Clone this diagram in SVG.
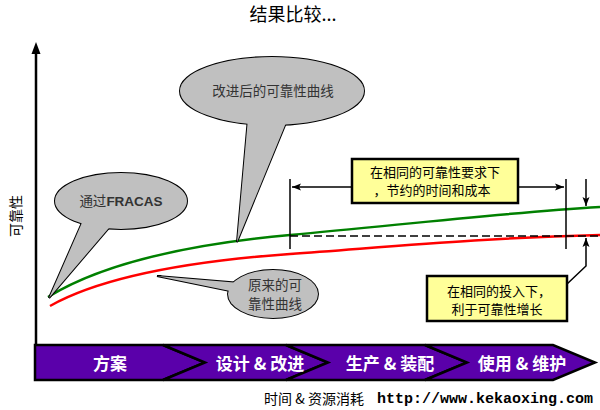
<svg xmlns="http://www.w3.org/2000/svg" width="600" height="410" viewBox="0 0 600 410">
<defs>
<marker id="ah" markerWidth="10" markerHeight="8" refX="9" refY="4" orient="auto" markerUnits="userSpaceOnUse">
<path d="M0,0.5 L9,4 L0,7.5 L2,4 Z" fill="#000"/>
</marker>
</defs>
<style>
.cjk{font-family:"Noto Sans CJK SC","Liberation Sans",sans-serif;}
.bub{fill:#C0C0C0;stroke:#000;stroke-width:2;}
.bubf{fill:#C0C0C0;stroke:none;}
.bt{font-size:13.5px;fill:#333;text-anchor:middle;}
.yb{fill:#FFFF99;stroke:#000;stroke-width:2.5;}
.yt{font-size:13px;fill:#000;text-anchor:middle;}
.chev{fill:#5A00AA;stroke:#000;stroke-width:2.5;stroke-linejoin:miter;}
.ct{font-size:17px;fill:#fff;text-anchor:middle;font-weight:bold;}
.ln{stroke:#000;stroke-width:1.5;fill:none;}
</style>
<rect width="600" height="410" fill="#fff"/>
<text class="cjk" x="293" y="21" font-size="18" text-anchor="middle" fill="#000">结果比较...</text>
<text class="cjk" transform="translate(21,216) rotate(-90)" font-size="14" text-anchor="middle" fill="#000">可靠性</text>
<g id="axis">
<line x1="36" y1="52" x2="36" y2="346" stroke="#000" stroke-width="2.5"/>
<path d="M36,42 L31.5,54 L40.5,54 Z" fill="#000"/>
</g>
<g id="phases">
<polygon class="chev" points="35,345 163,345 205,362.5 163,380 35,380"/>
<polygon class="chev" points="163,345 286,345 328,362.5 286,380 163,380 205,362.5"/>
<polygon class="chev" points="286,345 425,345 467,362.5 425,380 286,380 328,362.5"/>
<polygon class="chev" points="425,345 553,345 595,362.5 553,380 425,380 467,362.5"/>
<text class="cjk ct" x="110" y="370">方案</text>
<text class="cjk ct" x="260" y="370">设计 &amp; 改进</text>
<text class="cjk ct" x="390" y="370">生产 &amp; 装配</text>
<text class="cjk ct" x="522" y="370">使用 &amp; 维护</text>
</g>
<g id="curves">
<path d="M48,297 C100,265 180,245 290,235 S500,213 600,207" fill="none" stroke="#008000" stroke-width="2.5"/>
<path d="M50,306 C100,278 180,262 290,254 S480,238 600,235" fill="none" stroke="#FF0000" stroke-width="2.5"/>
</g>
<g id="connectors">
<line x1="290" y1="236" x2="600" y2="236" stroke="#000" stroke-width="1.6" stroke-dasharray="8,4"/>
<line class="ln" x1="290" y1="179" x2="290" y2="249" stroke-width="2"/>
<line class="ln" x1="566" y1="179" x2="566" y2="249" stroke-width="2"/>
<line class="ln" x1="352" y1="187" x2="292" y2="187" marker-end="url(#ah)"/>
<line class="ln" x1="518" y1="187" x2="564" y2="187" marker-end="url(#ah)"/>
<line class="ln" x1="586" y1="179" x2="586" y2="206" marker-end="url(#ah)"/>
<polyline class="ln" points="567,284 586,266 586,238" marker-end="url(#ah)"/>
</g>
<g id="callout-improved">
<ellipse class="bub" cx="272" cy="91" rx="92" ry="34"/>
<polygon class="bub" points="248,118 288,118 237,242"/>
<ellipse class="bubf" cx="272" cy="91" rx="92" ry="34"/>
<polygon class="bubf" points="248,118 288,118 237,242"/>
<text class="cjk bt" x="273" y="96">改进后的可靠性曲线</text>
</g>
<g id="callout-fracas">
<ellipse class="bub" cx="121" cy="201" rx="66" ry="28"/>
<polygon class="bub" points="84,218 114,222 49,298"/>
<ellipse class="bubf" cx="121" cy="201" rx="66" ry="28"/>
<polygon class="bubf" points="84,218 114,222 49,298"/>
<text class="cjk bt" x="121" y="206">通过<tspan font-family="Liberation Sans,sans-serif" font-weight="bold">FRACAS</tspan></text>
</g>
<g id="callout-original">
<ellipse class="bub" cx="273" cy="294" rx="45" ry="24"/>
<polygon class="bub" points="240,283 240,293 157,276"/>
<ellipse class="bubf" cx="273" cy="294" rx="45" ry="24"/>
<polygon class="bubf" points="240,283 240,293 157,276"/>
<text class="cjk bt" x="275" y="290" font-size="13">原来的可</text>
<text class="cjk bt" x="275" y="309" font-size="13">靠性曲线</text>
</g>
<g id="box-cost">
<rect class="yb" x="352" y="159" width="166" height="44"/>
<text class="cjk yt" x="435" y="177">在相同的可靠性要求下</text>
<text class="cjk yt" x="432" y="195">，节约的时间和成本</text>
</g>
<g id="box-growth">
<rect class="yb" x="427" y="276" width="140" height="45"/>
<text class="cjk yt" x="499" y="296">在相同的投入下，</text>
<text class="cjk yt" x="497" y="314">利于可靠性增长</text>
</g>
<text class="cjk" x="314" y="404" font-size="14" text-anchor="middle" fill="#000">时间 &amp; 资源消耗</text>
<text x="485" y="403" font-family="Liberation Mono,monospace" font-size="15" font-weight="bold" text-anchor="middle" fill="#000">http://www.kekaoxing.com</text>
</svg>
